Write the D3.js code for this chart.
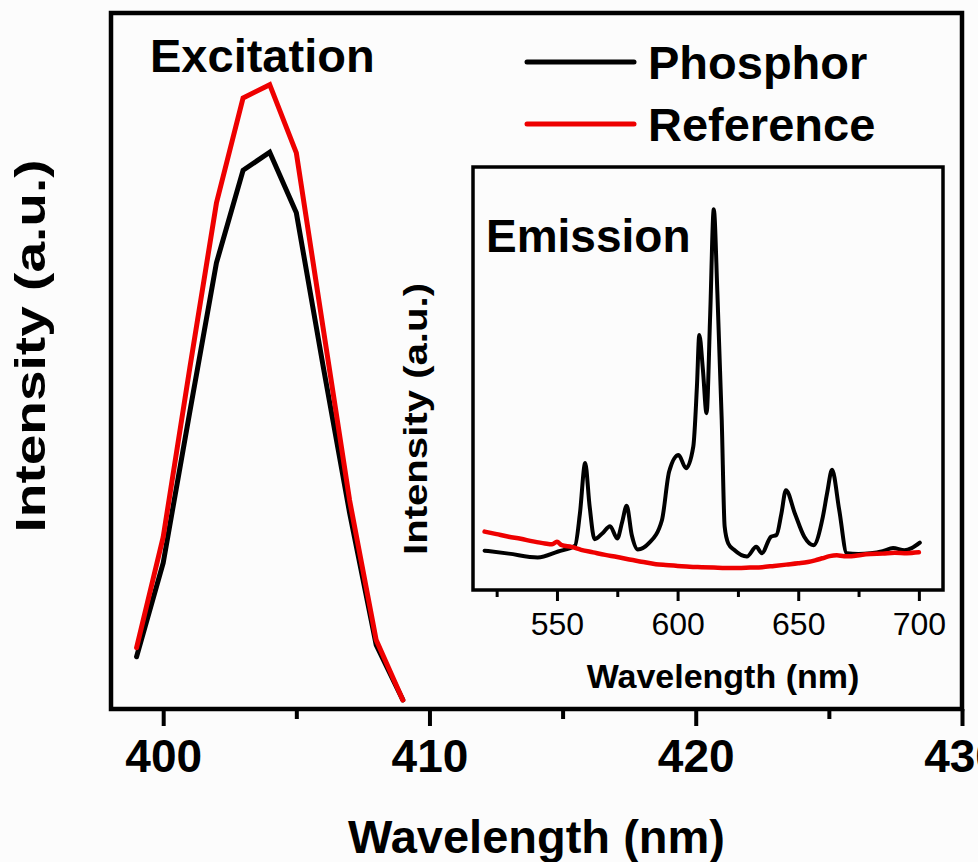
<!DOCTYPE html>
<html>
<head>
<meta charset="utf-8">
<script src="https://cdn.jsdelivr.net/npm/d3@7"></script>
<style>
  html, body { margin: 0; padding: 0; background: #fcfcfc; overflow: hidden; }
  svg { display: block; }
  text { font-family: "Liberation Sans", Arial, sans-serif; fill: #000; }
</style>
</head>
<body>
<svg id="chart" width="978" height="862"></svg>
<script>
// ---------- Data ----------
// Excitation spectra (main plot)
const excWavelength = [399, 400, 401, 402, 403, 404, 405, 406, 407, 408, 409];
const excPhosphor   = [7.5, 21.0, 42.7, 64.1, 77.4, 80.0, 71.3, 49.4, 28.2, 9.2, 1.3];
const excReference  = [8.8, 24.7, 49.0, 72.7, 87.8, 89.7, 79.9, 54.9, 30.0, 9.9, 1.3];

// Emission spectra (inset)
const emiPhosWavelength = [520, 530, 542, 550.5, 557.5, 559.5, 561.7, 563.5, 565.6, 569, 572, 575, 577, 578.9, 581, 583.5, 588,
  593.5, 596.5, 600.4, 603.5, 606.5, 608, 609, 610.5, 612, 613.5, 615, 616.5, 618.3, 619.5, 621, 623.4, 628.7,
  632.6, 634.9, 638.7, 641, 643, 644.9, 648.6, 652.5, 656.3, 660.2, 662, 664, 667, 670.1, 675, 680, 685, 689.3, 694, 697, 700.4];
const emiPhosphor = [9.3, 8.6, 7.7, 9.1, 10.5, 18, 30.0, 20, 12.0, 13.5, 15.1, 12.2, 16, 19.9, 13, 9.6, 11.0,
  16.5, 28.0, 31.9, 28.8, 33.9, 48, 60.3, 52, 41.8, 65, 90.0, 70, 40, 15, 11, 9.5, 7.9,
  10.2, 8.7, 12.6, 13.0, 18, 23.6, 18.1, 12.6, 10.6, 17.3, 23, 28.4, 18.9, 8.7, 8.5, 8.7, 9.2, 9.9, 9.4, 9.9, 11.2];
const emiRefWavelength = [520, 525, 530, 535, 540, 545, 548, 550, 552, 556, 560, 565, 570, 575, 580, 585, 591, 595, 600, 605, 610, 615, 620, 625, 630, 635, 640, 645, 650, 654, 657, 660, 663, 666, 669, 672, 676, 680, 685, 690, 695, 700];
const emiReference = [13.8, 13.2, 12.6, 12.1, 11.5, 11.0, 10.8, 11.4, 10.6, 10.2, 9.5, 8.9, 8.3, 7.8, 7.2, 6.7, 6.1, 5.9, 5.7, 5.5, 5.4, 5.3, 5.2, 5.2, 5.3, 5.4, 5.7, 6.0, 6.3, 6.6, 7.0, 7.5, 8.0, 8.2, 8.0, 8.0, 8.3, 8.5, 8.6, 8.8, 8.7, 8.9];

// Axis ticks
const mainMajorTicks = [400, 410, 420, 430];
const mainMinorTicks = [405, 415, 425];
const insetMajorTicks = [550, 600, 650, 700];
const insetMinorTicks = [525, 575, 625, 675];

// Labels
const seriesNames = ["Phosphor", "Reference"];
const seriesColors = ["#000000", "#ee0000"];

// ---------- Layout ----------
const svg = d3.select("#chart");
const font = '"Liberation Sans", Arial, sans-serif';

const main = { left: 111, right: 962, top: 13, bottom: 709 };
const inset = { left: 473, right: 943, top: 167, bottom: 590 };

// Main scales
const x = d3.scaleLinear().domain([398.04, 430]).range([main.left, main.right]);
const y = d3.scaleLinear().domain([0, 100]).range([main.bottom, main.top]);

// Inset scales
const xi = d3.scaleLinear().domain([515.2, 710]).range([inset.left, inset.right]);
const yi = d3.scaleLinear().domain([0, 100]).range([inset.bottom, inset.top]);

// ---------- Main plot ----------
const gx = svg.append("g").attr("transform", `translate(0,${main.bottom})`)
  .call(d3.axisBottom(x).tickValues(mainMajorTicks).tickSize(17).tickFormat(d3.format("d")));
gx.select(".domain").remove();
gx.selectAll(".tick line").attr("stroke", "#000").attr("stroke-width", 4);
gx.selectAll(".tick text").attr("y", 63).attr("dy", 0)
  .style("font-family", font).style("font-size", "46px").style("font-weight", "bold").attr("fill", "#000");

const gxm = svg.append("g").attr("transform", `translate(0,${main.bottom})`)
  .call(d3.axisBottom(x).tickValues(mainMinorTicks).tickSize(10).tickFormat(""));
gxm.select(".domain").remove();
gxm.selectAll(".tick line").attr("stroke", "#000").attr("stroke-width", 4);

svg.append("rect")
  .attr("x", main.left).attr("y", main.top)
  .attr("width", main.right - main.left).attr("height", main.bottom - main.top)
  .attr("fill", "none").attr("stroke", "#000").attr("stroke-width", 4.5);

const excLine = (vals) => d3.line()
  .x((d, i) => x(excWavelength[i]))
  .y(d => y(d))(vals);

[excPhosphor, excReference].forEach((vals, k) => {
  svg.append("path")
    .attr("d", excLine(vals))
    .attr("fill", "none")
    .attr("stroke", seriesColors[k])
    .attr("stroke-width", 5)
    .attr("stroke-linejoin", "miter")
    .attr("stroke-linecap", "round");
});

svg.append("text").text("Excitation")
  .attr("x", 150).attr("y", 72)
  .style("font-size", "47px").style("font-weight", "bold");

svg.append("text").text("Wavelength (nm)")
  .attr("x", (main.left + main.right) / 2).attr("y", 853)
  .attr("text-anchor", "middle")
  .style("font-size", "47px").style("font-weight", "bold");

svg.append("text").text("Intensity (a.u.)")
  .attr("transform", "translate(45,346) rotate(-90)")
  .attr("text-anchor", "middle")
  .attr("textLength", 373).attr("lengthAdjust", "spacingAndGlyphs")
  .style("font-size", "43px").style("font-weight", "bold");

// Legend
const legendY = [62, 124];
seriesNames.forEach((name, k) => {
  svg.append("line")
    .attr("x1", 527).attr("x2", 634)
    .attr("y1", legendY[k]).attr("y2", legendY[k])
    .attr("stroke", seriesColors[k]).attr("stroke-width", 5).attr("stroke-linecap", "round");
  svg.append("text").text(name)
    .attr("x", 648).attr("y", legendY[k] + 17)
    .style("font-size", "47px").style("font-weight", "bold");
});

// ---------- Inset ----------
const gi = svg.append("g").attr("transform", `translate(0,${inset.bottom})`)
  .call(d3.axisBottom(xi).tickValues(insetMajorTicks).tickSize(11).tickFormat(d3.format("d")));
gi.select(".domain").remove();
gi.selectAll(".tick line").attr("stroke", "#000").attr("stroke-width", 3);
gi.selectAll(".tick text").attr("y", 45).attr("dy", 0)
  .style("font-family", font).style("font-size", "32px").attr("fill", "#000");

const gim = svg.append("g").attr("transform", `translate(0,${inset.bottom})`)
  .call(d3.axisBottom(xi).tickValues(insetMinorTicks).tickSize(7).tickFormat(""));
gim.select(".domain").remove();
gim.selectAll(".tick line").attr("stroke", "#000").attr("stroke-width", 3);

svg.append("rect")
  .attr("x", inset.left).attr("y", inset.top)
  .attr("width", inset.right - inset.left).attr("height", inset.bottom - inset.top)
  .attr("fill", "none").attr("stroke", "#000").attr("stroke-width", 3.5);

const emiLine = (xs, vals) => d3.line()
  .x((d, i) => xi(xs[i]))
  .y(d => yi(d))
  .curve(d3.curveMonotoneX)(vals);

svg.append("path")
  .attr("d", emiLine(emiPhosWavelength, emiPhosphor))
  .attr("fill", "none").attr("stroke", seriesColors[0])
  .attr("stroke-width", 4).attr("stroke-linejoin", "round").attr("stroke-linecap", "round");

svg.append("path")
  .attr("d", emiLine(emiRefWavelength, emiReference))
  .attr("fill", "none").attr("stroke", seriesColors[1])
  .attr("stroke-width", 4.5).attr("stroke-linejoin", "round").attr("stroke-linecap", "round");

svg.append("text").text("Emission")
  .attr("x", 486).attr("y", 252)
  .style("font-size", "46px").style("font-weight", "bold");

svg.append("text").text("Wavelength (nm)")
  .attr("x", 723).attr("y", 688)
  .attr("text-anchor", "middle")
  .style("font-size", "34px").style("font-weight", "bold");

svg.append("text").text("Intensity (a.u.)")
  .attr("transform", "translate(427,419) rotate(-90)")
  .attr("text-anchor", "middle")
  .attr("textLength", 272).attr("lengthAdjust", "spacingAndGlyphs")
  .style("font-size", "34px").style("font-weight", "bold");
</script>
</body>
</html>
